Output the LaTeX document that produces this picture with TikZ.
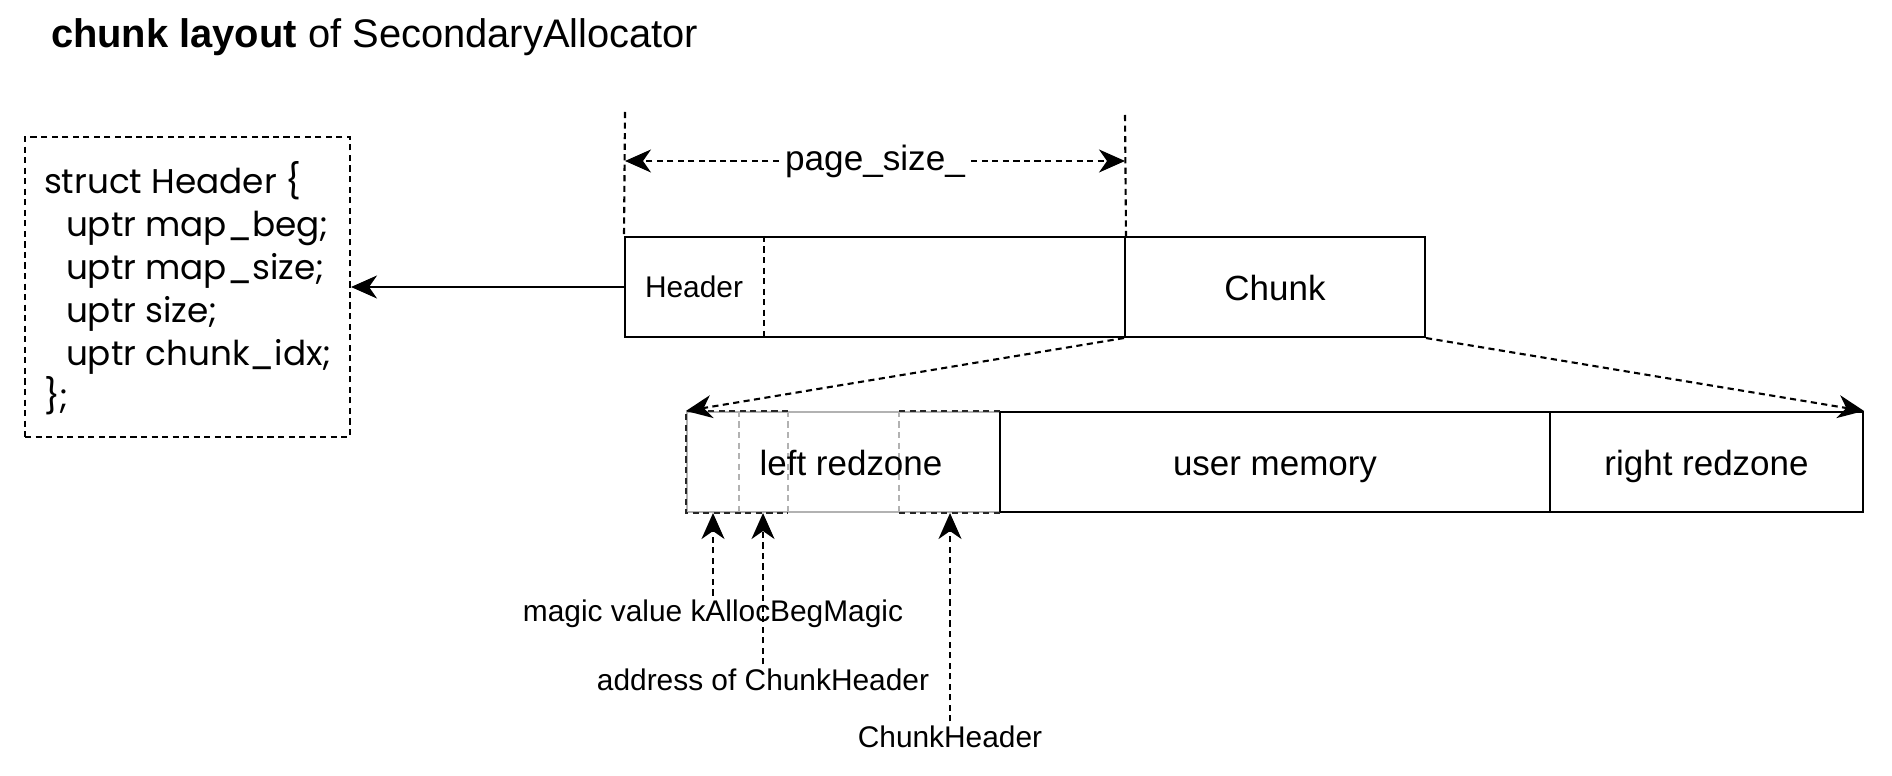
\documentclass[tikz,border=0pt]{standalone}
\usepackage{fontspec}
\setmainfont{Liberation Sans}
\newfontfamily\comicfont{Poppins}
\usepackage{tikz}
\usetikzlibrary{calc,shapes,positioning}
\usetikzlibrary{arrows.meta}
\tikzset{>={Stealth[length=5.2mm,width=4.6mm,inset=1.6mm]}}

\begin{document}
\begin{tikzpicture}[x=0.02cm, y=-0.02cm, line width=1.2pt]
  \tikzstyle{box} = [draw, rectangle, inner sep=0pt, minimum height=2cm, text height=17pt, text depth=1.5pt, font=\fontsize{19.9}{24}\selectfont]
  \tikzstyle{cell} = [rectangle, inner sep=0pt, minimum height=2cm]
  \tikzstyle{lbl} = [inner sep=2pt, font=\fontsize{17}{20}\selectfont]
  \tikzstyle{dsh} = [dash pattern=on 3.5pt off 2.5pt]
  \useasboundingbox (0,0) rectangle (1892,776);

  \node[anchor=west, inner sep=0pt, font=\fontsize{22.7}{26}\selectfont] (title) at (50,37) {\textbf{chunk layout} of SecondaryAllocator};

  \node[draw, dsh, rectangle, minimum width=6.5cm, minimum height=6cm] (hstruct) at (187.5,287) {};
  \node[anchor=west, align=left, inner sep=0pt, font=\comicfont\fontsize{19.5}{24.5}\selectfont] (hfields) at (43,288) {struct Header \{\\
    \hspace*{0.44cm}uptr map\_beg;\\
    \hspace*{0.44cm}uptr map\_size;\\
    \hspace*{0.44cm}uptr size;\\
    \hspace*{0.44cm}uptr chunk\_idx;\\
    \};};

  \node[box, minimum width=10cm] (page) at (875,287) {};
  \node[box, minimum width=6cm] (chunk) at (1275,287) {Chunk};
  \node[lbl, minimum width=2.76cm, minimum height=2cm, inner sep=0pt] (hdr) at (694,287) {Header};
  \draw[dsh] (hdr.north east) to (hdr.south east);

  \coordinate (dl) at (625,112);
  \coordinate (dr) at (1125,115);
  \coordinate (al) at (625,161);
  \coordinate (ar) at (1125,161);
  \draw[dsh] (dl) to (page.north west);
  \draw[dsh] (dr) to (page.north east);
  \node[inner sep=3pt, font=\fontsize{20}{24}\selectfont] (psz) at (875,161) {page\_size\_};
  \draw[dsh, ->] (psz) to (al);
  \draw[dsh, ->] (psz) to (ar);

  \node[box, draw=gray!60, minimum width=6.26cm] (lrz) at (843.5,462) {};
  \node[cell, minimum width=1.02cm] (magic) at (712.5,462) {};
  \node[cell, minimum width=0.98cm] (addr) at (762.5,462) {};
  \node[cell, minimum width=2cm] (chdr) at (950,462) {};
  \draw[dsh, gray!60] (magic.north east) to (magic.south east);
  \draw[dsh, gray!60] (addr.north east) to (addr.south east);
  \draw[dsh, gray!60] (chdr.north west) to (chdr.south west);
  \node[box, draw=none] (lrzt) at (851,462) {left redzone};
  \node[box, minimum width=11cm] (umem) at (1275,462) {user memory};
  \node[box, minimum width=6.26cm] (rrz) at (1706.5,462) {right redzone};
  \draw[dsh, black!85] (addr.north east) -- (magic.north west) -- (magic.south west) -- (addr.south east);
  \draw[dsh, black!85] (chdr.north west) -- (chdr.north east);
  \draw[dsh, black!85] (chdr.south west) -- (chdr.south east);

  \draw[->] (page.west) to (hstruct.east);
  \draw[dsh, ->] (chunk.south west) to (lrz.north west);
  \draw[dsh, ->] (chunk.south east) to (rrz.north east);

  \node[lbl] (lmagic) at (713,614) {magic value kAllocBegMagic};
  \node[lbl] (laddr) at (763,680) {address of ChunkHeader};
  \node[lbl] (lchdr) at (950,737) {ChunkHeader};
  \draw[dsh, ->] (lmagic) to (lmagic |- magic.south);
  \draw[dsh, ->] (laddr) to (laddr |- addr.south);
  \draw[dsh, ->] (lchdr) to (chdr);
\end{tikzpicture}
\end{document}
